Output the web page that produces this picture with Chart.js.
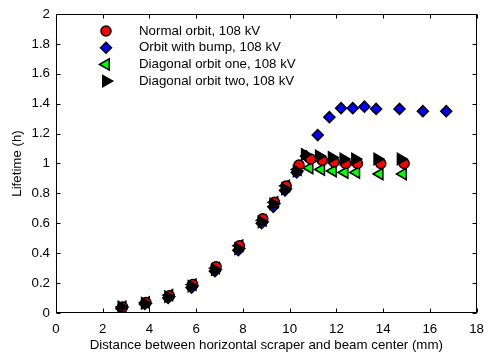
<!DOCTYPE html>
<html>
<head>
<meta charset="utf-8">
<script src="https://cdn.jsdelivr.net/npm/chart.js@4/dist/chart.umd.min.js"></script>
<style>
  html, body { margin: 0; padding: 0; background: #fff; }
</style>
</head>
<body>
<canvas id="lifetimeChart" width="492" height="355"></canvas>
<script>
// --- data ---
const X_TICKS = [0, 2, 4, 6, 8, 10, 12, 14, 16, 18];
const Y_TICKS = [0, 0.2, 0.4, 0.6, 0.8, 1, 1.2, 1.4, 1.6, 1.8, 2];

const SERIES_LABELS = [
  'Normal orbit, 108 kV',
  'Orbit with bump, 108 kV',
  'Diagonal orbit one, 108 kV',
  'Diagonal orbit two, 108 kV'
];

// Normal orbit (red circles)
const NORMAL_X = [2.85, 3.85, 4.85, 5.85, 6.85, 7.85, 8.85, 9.35, 9.85, 10.4, 10.9, 11.4, 11.9, 12.4, 12.9, 13.9, 14.9];
const NORMAL_Y = [0.04, 0.07, 0.115, 0.19, 0.31, 0.45, 0.63, 0.74, 0.85, 0.99, 1.03, 1.02, 1.01, 1.0, 1.0, 1.0, 1.0];

// Orbit with bump (blue diamonds)
const BUMP_X = [2.8, 3.8, 4.8, 5.8, 6.8, 7.8, 8.8, 9.3, 9.8, 10.3, 10.7, 11.2, 11.7, 12.2, 12.7, 13.2, 13.7, 14.7, 15.7, 16.7];
const BUMP_Y = [0.03, 0.06, 0.1, 0.17, 0.28, 0.42, 0.6, 0.71, 0.82, 0.94, 1.05, 1.19, 1.31, 1.37, 1.37, 1.38, 1.365, 1.365, 1.35, 1.35];

// Diagonal orbit one (green, pointing left)
const DIAG1_X = [2.85, 3.85, 4.85, 5.85, 6.85, 7.85, 8.85, 9.35, 9.85, 10.35, 10.85, 11.35, 11.85, 12.35, 12.85, 13.85, 14.85];
const DIAG1_Y = [0.04, 0.07, 0.12, 0.19, 0.3, 0.45, 0.62, 0.74, 0.85, 0.96, 0.97, 0.96, 0.95, 0.94, 0.94, 0.93, 0.93];

// Diagonal orbit two (black, pointing right)
const DIAG2_X = [2.8, 3.8, 4.8, 5.8, 6.8, 7.8, 8.8, 9.3, 9.8, 10.3, 10.65, 11.25, 11.8, 12.3, 12.8, 13.75, 14.75];
const DIAG2_Y = [0.04, 0.065, 0.11, 0.18, 0.29, 0.43, 0.61, 0.73, 0.83, 0.95, 1.06, 1.05, 1.04, 1.03, 1.03, 1.03, 1.03];

// --- helpers ---
const FONT = { family: "'Liberation Sans', Arial, sans-serif", size: 13.3 };

function toPoints(xs, ys) {
  return xs.map((x, i) => ({ x: x, y: ys[i] }));
}

// frame with inward ticks on all four sides (matlab style box)
const framePlugin = {
  id: 'frame',
  beforeDatasetsDraw(chart) {
    const { ctx, chartArea: a, scales } = chart;
    const L = Math.round(a.left) + 0.5, R = Math.round(a.right) - 0.5;
    const T = Math.round(a.top) + 0.5, B = Math.round(a.bottom) - 0.5;
    const len = 4;
    ctx.save();
    ctx.strokeStyle = '#000';
    ctx.lineWidth = 1;
    ctx.strokeRect(L, T, R - L, B - T);
    ctx.beginPath();
    X_TICKS.forEach(v => {
      const px = Math.round(scales.x.getPixelForValue(v)) + 0.5;
      ctx.moveTo(px, B); ctx.lineTo(px, B - len);
      ctx.moveTo(px, T); ctx.lineTo(px, T + len);
    });
    Y_TICKS.forEach(v => {
      const py = Math.round(scales.y.getPixelForValue(v)) + 0.5;
      ctx.moveTo(L, py); ctx.lineTo(L + len, py);
      ctx.moveTo(R, py); ctx.lineTo(R - len, py);
    });
    ctx.stroke();
    ctx.restore();
  }
};

// legend inside the axes, no box
const innerLegend = {
  id: 'innerLegend',
  afterDatasetsDraw(chart) {
    const ctx = chart.ctx;
    const markerX = 106, textX = 139, firstY = 31, rowH = 16.7;
    ctx.save();
    SERIES_LABELS.forEach((label, i) => {
      const ds = chart.data.datasets.find(d => d.label === label);
      const y = firstY + i * rowH;
      ctx.fillStyle = ds.pointBackgroundColor;
      ctx.strokeStyle = ds.pointBorderColor;
      ctx.lineWidth = ds.pointBorderWidth;
      Chart.helpers.drawPoint(ctx, {
        pointStyle: ds.pointStyle,
        radius: ds.pointRadius,
        rotation: ds.pointRotation || 0,
        borderWidth: ds.pointBorderWidth
      }, markerX, y);
      ctx.fillStyle = '#000';
      ctx.font = FONT.size + 'px ' + FONT.family;
      ctx.textAlign = 'left';
      ctx.textBaseline = 'middle';
      ctx.fillText(label, textX, y);
    });
    ctx.restore();
  }
};

const ctx = document.getElementById('lifetimeChart').getContext('2d');
new Chart(ctx, {
  type: 'scatter',
  data: {
    datasets: [{
      label: SERIES_LABELS[0],
      data: toPoints(NORMAL_X, NORMAL_Y),
      pointStyle: 'circle',
      pointRadius: 5,
      pointBackgroundColor: '#ff0000',
      pointBorderColor: '#000',
      pointBorderWidth: 1.5,
      order: 2
    }, {
      label: SERIES_LABELS[1],
      data: toPoints(BUMP_X, BUMP_Y),
      pointStyle: 'rectRot',
      pointRadius: 5.5,
      pointBackgroundColor: '#0000ff',
      pointBorderColor: '#000',
      pointBorderWidth: 1.5,
      order: 4
    }, {
      label: SERIES_LABELS[2],
      data: toPoints(DIAG1_X, DIAG1_Y),
      pointStyle: 'triangle',
      pointRotation: 270,
      pointRadius: 6.5,
      pointBackgroundColor: '#00ff00',
      pointBorderColor: '#000',
      pointBorderWidth: 1.5,
      order: 3
    }, {
      label: SERIES_LABELS[3],
      data: toPoints(DIAG2_X, DIAG2_Y),
      pointStyle: 'triangle',
      pointRotation: 90,
      pointRadius: 6.5,
      pointBackgroundColor: '#000',
      pointBorderColor: '#000',
      pointBorderWidth: 1.5,
      order: 1
    }]
  },
  options: {
    responsive: false,
    animation: false,
    events: [],
    layout: { padding: { top: 10, right: 9, left: 0, bottom: 0 } },
    plugins: { legend: { display: false }, tooltip: { enabled: false } },
    scales: {
      x: {
        type: 'linear',
        min: 0,
        max: 18,
        afterBuildTicks: s => { s.ticks = X_TICKS.map(v => ({ value: v })); },
        afterFit: s => { s.height = 42; },
        grid: { display: false, drawTicks: false },
        border: { display: false },
        ticks: { color: '#000', font: FONT, padding: 8, maxRotation: 0, callback: v => String(v) },
        title: {
          display: true,
          text: 'Distance between horizontal scraper and beam center (mm)',
          color: '#000',
          font: FONT,
          padding: { top: 0, bottom: 2 }
        }
      },
      y: {
        type: 'linear',
        min: 0,
        max: 2,
        afterBuildTicks: s => { s.ticks = Y_TICKS.map(v => ({ value: v })); },
        afterFit: s => { s.width = 56; },
        grid: { display: false, drawTicks: false },
        border: { display: false },
        ticks: { color: '#000', font: FONT, padding: 6, callback: v => String(v) },
        title: {
          display: true,
          text: 'Lifetime (h)',
          color: '#000',
          font: FONT,
          padding: { top: 9, bottom: 0 }
        }
      }
    }
  },
  plugins: [framePlugin, innerLegend]
});
</script>
</body>
</html>
